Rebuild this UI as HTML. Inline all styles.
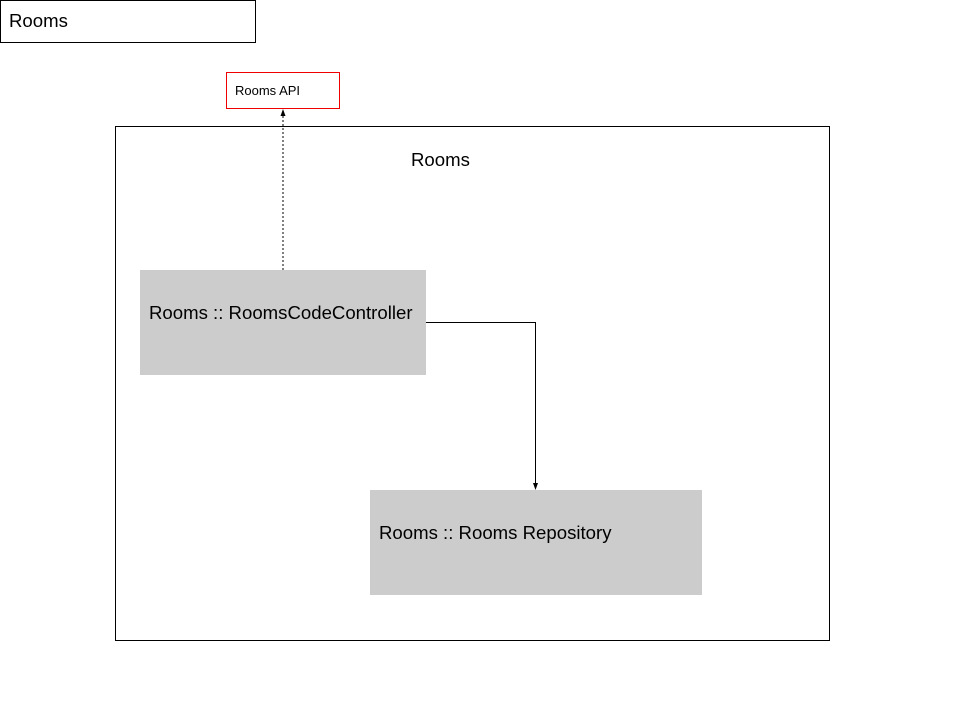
<!DOCTYPE html>
<html><head><style>
body{margin:0;width:960px;height:720px;background:#fff;position:relative;font-family:"Liberation Sans",sans-serif;overflow:hidden}
.a{position:absolute;box-sizing:border-box}
</style></head><body>
<div class="a" style="left:0;top:0;width:256px;height:43px;border:1px solid #000;font-size:18.6px;padding:9px 0 0 8px">Rooms</div>
<div class="a" style="left:226px;top:72px;width:114px;height:37px;border:1px solid #e00;font-size:13px;padding:10px 0 0 8px">Rooms API</div>
<div class="a" style="left:115px;top:126px;width:715px;height:515px;border:1px solid #000"></div>
<div class="a" style="left:411px;top:149px;font-size:18.6px">Rooms</div>
<div class="a" style="left:140px;top:270px;width:286px;height:105px;background:#ccc;font-size:18.6px;padding:32px 0 0 9px;white-space:nowrap">Rooms :: RoomsCodeController</div>
<div class="a" style="left:370px;top:490px;width:332px;height:105px;background:#ccc;font-size:18.6px;padding:32px 0 0 9px">Rooms :: Rooms Repository</div>
<svg class="a" style="left:0;top:0" width="960" height="720">
<line x1="283" y1="270" x2="283" y2="115" stroke="#000" stroke-dasharray="2,2"/>
<polygon points="283,109 280.5,116 285.5,116" fill="#000"/>
<polyline points="426,322.5 535.5,322.5 535.5,484" fill="none" stroke="#000"/>
<polygon points="535.5,490 533,483 538,483" fill="#000"/>
</svg>
</body></html>
